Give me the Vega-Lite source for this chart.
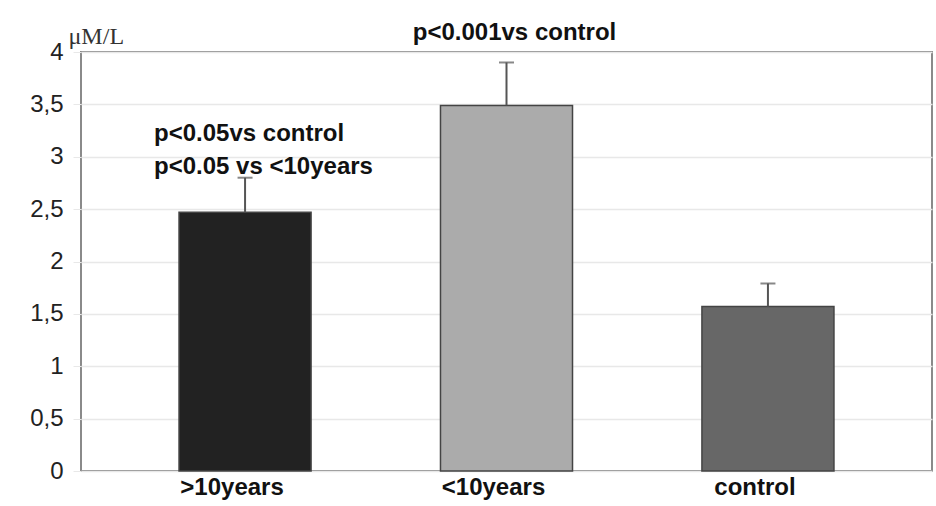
{
  "$schema": "https://vega.github.io/schema/vega-lite/v6.json",
  "width": 851,
  "height": 419,
  "autosize": {"type": "none"},
  "padding": {"left": 81, "top": 52, "right": 4, "bottom": 35},
  "background": "white",
  "config": {
    "font": "Liberation Sans",
    "view": {"stroke": "#8a8a8a", "strokeWidth": 2}
  },
  "title": {
    "text": "p<0.001vs control",
    "font": "Liberation Sans",
    "fontSize": 24,
    "fontWeight": "bold",
    "color": "#111",
    "anchor": "middle",
    "offset": 0,
    "dy": 21,
    "dx": 8
  },
  "data": {
    "values": [
      {"group": ">10years", "value": 2.47, "upper": 2.80},
      {"group": "<10years", "value": 3.49, "upper": 3.90},
      {"group": "control", "value": 1.57, "upper": 1.79}
    ]
  },
  "encoding": {
    "x": {
      "field": "group",
      "type": "nominal",
      "sort": [">10years", "<10years", "control"],
      "scale": {"paddingInner": 0.495, "paddingOuter": 0.375},
      "axis": {
        "title": null,
        "labelAngle": 0,
        "ticks": false,
        "domain": false,
        "labelFont": "Liberation Sans",
        "labelFontSize": 24,
        "labelFontWeight": "bold",
        "labelColor": "#111",
        "labelPadding": 4,
        "labelOffset": -13
      }
    }
  },
  "layer": [
    {
      "mark": {"type": "bar", "stroke": "#444", "strokeWidth": 1.5},
      "encoding": {
        "y": {
          "field": "value",
          "type": "quantitative",
          "scale": {"domain": [0, 4]},
          "axis": {
            "values": [0, 0.5, 1, 1.5, 2, 2.5, 3, 3.5, 4],
            "labelExpr": "replace(format(datum.value, ''), '.', ',')",
            "labelFont": "Liberation Sans",
            "labelFontSize": 24,
            "labelColor": "#222",
            "labelPadding": 10,
            "tickSize": 8,
            "tickColor": "#e8e8e8",
            "gridColor": "#e8e8e8",
            "gridWidth": 1.5,
            "domain": false,
            "title": "μM/L",
            "titleFont": "Liberation Serif",
            "titleFontWeight": "normal",
            "titleFontSize": 24,
            "titleColor": "#333",
            "titleAngle": 0,
            "titleAlign": "left",
            "titleBaseline": "middle",
            "titleX": -13,
            "titleY": -16
          }
        },
        "color": {
          "field": "group",
          "type": "nominal",
          "scale": {
            "domain": [">10years", "<10years", "control"],
            "range": ["#222222", "#ababab", "#676767"]
          },
          "legend": null
        }
      }
    },
    {
      "mark": {"type": "rule", "color": "#555", "strokeWidth": 2},
      "encoding": {
        "y": {"field": "value", "type": "quantitative"},
        "y2": {"field": "upper"}
      }
    },
    {
      "mark": {"type": "tick", "color": "#555", "size": 15, "thickness": 2},
      "encoding": {
        "y": {"field": "upper", "type": "quantitative"}
      }
    },
    {
      "data": {"values": [{"group": ">10years", "label": "p<0.05vs control", "pos": 3.22}, {"group": ">10years", "label": "p<0.05 vs <10years", "pos": 2.9}]},
      "mark": {"type": "text", "align": "left", "baseline": "middle", "dx": -91, "font": "Liberation Sans", "fontSize": 24, "fontWeight": "bold", "color": "#111"},
      "encoding": {
        "y": {"field": "pos", "type": "quantitative"},
        "text": {"field": "label"}
      }
    }
  ]
}
